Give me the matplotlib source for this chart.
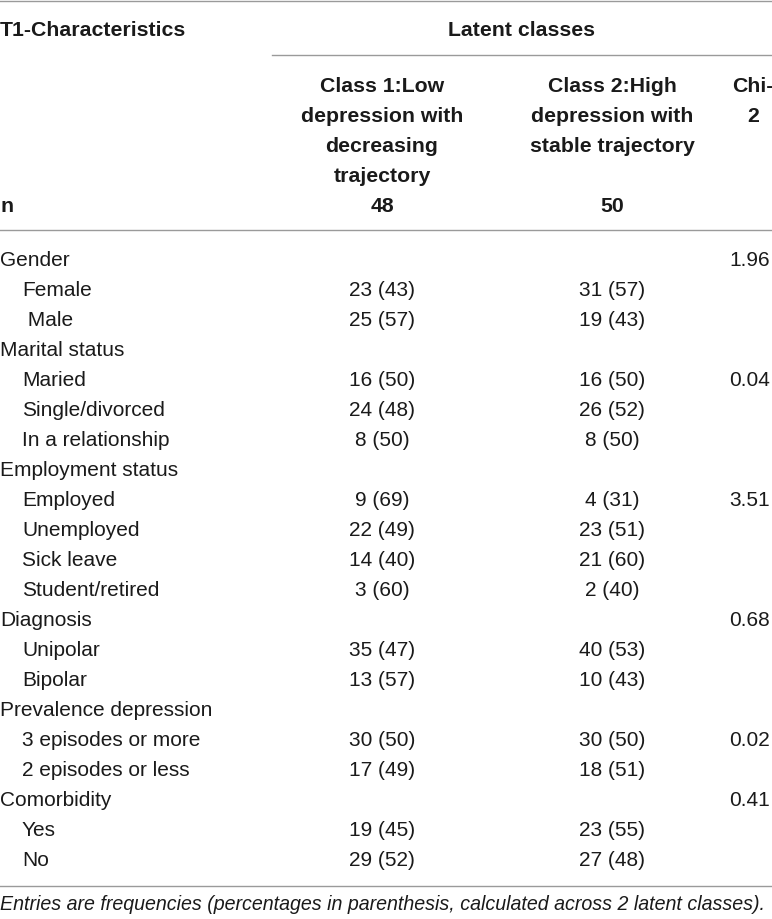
import matplotlib
matplotlib.use("Agg")
import matplotlib.pyplot as plt

# --- data ---
groups = ["Gender", "Marital status", "Employment status", "Diagnosis",
          "Prevalence depression", "Comorbidity"]
group_items = [["Female", " Male"],
               ["Maried", "Single/divorced", "In a relationship"],
               ["Employed", "Unemployed", "Sick leave", "Student/retired"],
               ["Unipolar", "Bipolar"],
               ["3 episodes or more", "2 episodes or less"],
               ["Yes", "No"]]
class1_n = [23, 25, 16, 24, 8, 9, 22, 14, 3, 35, 13, 30, 17, 19, 29]
class1_pct = [43, 57, 50, 48, 50, 69, 49, 40, 60, 47, 57, 50, 49, 45, 52]
class2_n = [31, 19, 16, 26, 8, 4, 23, 21, 2, 40, 10, 30, 18, 23, 27]
class2_pct = [57, 43, 50, 52, 50, 31, 51, 60, 40, 53, 43, 50, 51, 55, 48]
chi2 = ["1.96", "0.04", "3.51", "0.68", "0.02", "0.41"]
chi2_row = [0, 1, 1, 0, 1, 0]  # 0 = group row, k = k-th item
n_class = [48, 50]

col_headers = [["Class 1:Low", "depression with", "decreasing", "trajectory"],
               ["Class 2:High", "depression with", "stable trajectory"],
               ["Chi-", "2"]]
footnote = "Entries are frequencies (percentages in parenthesis, calculated across 2 latent classes)."

# --- layout ---
W, H = 772, 919
X_IND = 22
X_C1, X_C2, X_CHI = 382, 612, 770
Y0, DY = 266, 30
LINE_C = "#9a9a9a"
TXT_C = "#1a1a1a"
FS = 15
FS_B = 15.3

plt.rcParams['font.family'] = ['Liberation Sans', 'DejaVu Sans']

fig = plt.figure(figsize=(W / 100, H / 100), dpi=100)
ax = fig.add_axes([0, 0, 1, 1])
ax.set_xlim(0, W)
ax.set_ylim(H, 0)
ax.axis("off")

def txt(x, y, s, ha="left", bold=False, **kw):
    ax.text(x, y, s, ha=ha, va="baseline", color=TXT_C,
            fontsize=FS_B if bold else FS,
            fontweight="bold" if bold else "normal", **kw)

# rules
ax.plot([0, W], [1, 1], color=LINE_C, lw=1.0)
ax.plot([272, W], [55, 55], color=LINE_C, lw=1.0)
ax.plot([0, W], [230, 230], color=LINE_C, lw=1.0)
ax.plot([0, W], [886, 886], color=LINE_C, lw=1.0)

# header
txt(0, 36, "T1-Characteristics", bold=True)
txt(522, 36, "Latent classes", ha="center", bold=True)
for xc, lines in zip([X_C1, X_C2, 753], col_headers):
    for k, s in enumerate(lines):
        txt(xc, 92 + 30 * k, s, ha="center", bold=True)
txt(0, 212, "n", bold=True)
txt(X_C1, 212, str(n_class[0]), ha="center", bold=True)
txt(X_C2, 212, str(n_class[1]), ha="center", bold=True)

# body
r = 0
i = 0
for g, items, c, cr in zip(groups, group_items, chi2, chi2_row):
    y = Y0 + DY * r
    txt(0, y, g)
    if cr == 0:
        txt(X_CHI, y, c, ha="right")
    r += 1
    for k, lab in enumerate(items):
        y = Y0 + DY * r
        txt(X_IND, y, lab)
        txt(X_C1, y, f"{class1_n[i]} ({class1_pct[i]})", ha="center")
        txt(X_C2, y, f"{class2_n[i]} ({class2_pct[i]})", ha="center")
        if cr == k + 1:
            txt(X_CHI, y, c, ha="right")
        r += 1
        i += 1

ax.text(0, 910, footnote, ha="left", va="baseline", color=TXT_C,
        fontsize=14.1, fontstyle="italic")

fig.savefig("out.png", dpi=100)
